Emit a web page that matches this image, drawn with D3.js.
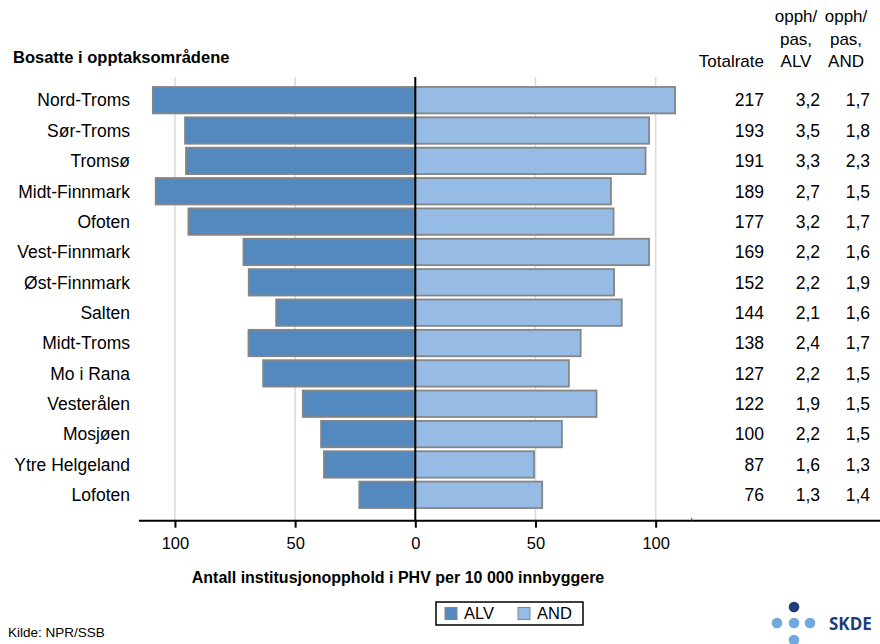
<!DOCTYPE html>
<html>
<head>
<meta charset="utf-8">
<script src="https://cdn.jsdelivr.net/npm/d3@7"></script>
<style>
  body { margin: 0; background: #fff; }
  svg { display: block; }
  text { font-family: "Liberation Sans", Arial, Helvetica, sans-serif; fill: #000; }
</style>
</head>
<body>
<svg id="chart" width="880" height="644"></svg>
<script>
// Opptaksområder (sortert etter totalrate)
const regions = ["Nord-Troms", "Sør-Troms", "Tromsø", "Midt-Finnmark", "Ofoten", "Vest-Finnmark",
  "Øst-Finnmark", "Salten", "Midt-Troms", "Mo i Rana", "Vesterålen", "Mosjøen", "Ytre Helgeland", "Lofoten"];
// Rater per 10 000 innbyggere
const alvRate = [109.2, 95.8, 95.4, 108.0, 94.4, 71.5, 69.3, 57.9, 69.4, 63.3, 46.8, 39.2, 38.0, 23.3];
const andRate = [108.1, 97.3, 95.8, 81.4, 82.5, 97.3, 82.7, 85.9, 68.8, 63.9, 75.4, 61.0, 49.4, 52.8];
const totalRate = [217, 193, 191, 189, 177, 169, 152, 144, 138, 127, 122, 100, 87, 76];
// Opphold per pasient
const perPatientAlv = [3.2, 3.5, 3.3, 2.7, 3.2, 2.2, 2.2, 2.1, 2.4, 2.2, 1.9, 2.2, 1.6, 1.3];
const perPatientAnd = [1.7, 1.8, 2.3, 1.5, 1.7, 1.6, 1.9, 1.6, 1.7, 1.5, 1.5, 1.5, 1.3, 1.4];
const xTicks = [-100, -50, 0, 50, 100];
const seriesNames = ["ALV", "AND"];
const seriesColors = ["#5389be", "#96bce5"];

const svg = d3.select("#chart");
const W = 880;
const no = d3.formatLocale({ decimal: ",", thousands: " ", grouping: [3], currency: ["", " kr"] });
const fmt1 = no.format(".1f");
const labelSize = 17.5;

const x = d3.scaleLinear().domain([-115, 115]).range([138.9, 691.7]);
const y = d3.scaleBand().domain(regions).range([85, 510]).paddingInner(0.13).paddingOuter(0.065);
const axisY = 520.7, gridTop = 77;

// rutenett
svg.append("g").selectAll("line")
  .data(xTicks.filter(d => d !== 0))
  .join("line")
  .attr("x1", d => x(d)).attr("x2", d => x(d))
  .attr("y1", gridTop).attr("y2", axisY)
  .attr("stroke", "#dcdcdc").attr("stroke-width", 1.6);

// søyler
const rows = regions.map((r, i) => ({ r, alv: alvRate[i], and: andRate[i] }));
const bars = svg.append("g");
bars.selectAll("rect.alv").data(rows).join("rect")
  .attr("class", "alv")
  .attr("x", d => x(-d.alv)).attr("width", d => x(0) - x(-d.alv))
  .attr("y", d => y(d.r)).attr("height", y.bandwidth())
  .attr("fill", seriesColors[0]).attr("stroke", "#858585").attr("stroke-width", 1.8);
bars.selectAll("rect.and").data(rows).join("rect")
  .attr("class", "and")
  .attr("x", x(0)).attr("width", d => x(d.and) - x(0))
  .attr("y", d => y(d.r)).attr("height", y.bandwidth())
  .attr("fill", seriesColors[1]).attr("stroke", "#858585").attr("stroke-width", 1.8);

// nullinje
svg.append("line")
  .attr("x1", x(0)).attr("x2", x(0)).attr("y1", gridTop).attr("y2", axisY)
  .attr("stroke", "#000").attr("stroke-width", 2);

// x-akse
const xAxis = d3.axisBottom(x).tickValues(xTicks).tickFormat(d => Math.abs(d))
  .tickSize(7).tickSizeOuter(0).tickPadding(10);
const gx = svg.append("g").attr("transform", `translate(0,${axisY})`).call(xAxis);
gx.select(".domain").remove();
gx.selectAll(".tick line").attr("stroke", "#000").attr("stroke-width", 2);
gx.selectAll(".tick text").attr("font-size", 16.5).attr("fill", "#000")
  .style("font-family", "'Liberation Sans', Arial, sans-serif");
svg.append("line").attr("x1", x.range()[0]).attr("x2", W).attr("y1", axisY).attr("y2", axisY)
  .attr("stroke", "#000").attr("stroke-width", 2);
svg.append("line").attr("x1", x.range()[1]).attr("x2", x.range()[1]).attr("y1", axisY - 3).attr("y2", axisY)
  .attr("stroke", "#555").attr("stroke-width", 1);

// kategorietiketter
svg.append("g").selectAll("text").data(regions).join("text")
  .attr("x", 130).attr("y", d => y(d) + y.bandwidth() / 2)
  .attr("dy", "0.36em").attr("text-anchor", "end").attr("font-size", labelSize)
  .text(d => d);

// tabellkolonner
const cols = [
  { xp: 764, vals: totalRate.map(String), head: ["Totalrate"], hx: 764 },
  { xp: 820, vals: perPatientAlv.map(fmt1), head: ["opph/", "pas,", "ALV"], hx: 796 },
  { xp: 870, vals: perPatientAnd.map(fmt1), head: ["opph/", "pas,", "AND"], hx: 846 }
];
cols.forEach(c => {
  svg.append("g").selectAll("text").data(c.vals).join("text")
    .attr("x", c.xp).attr("y", (d, i) => y(regions[i]) + y.bandwidth() / 2)
    .attr("dy", "0.36em").attr("text-anchor", "end").attr("font-size", labelSize)
    .text(d => d);
  const n = c.head.length;
  svg.append("g").selectAll("text").data(c.head).join("text")
    .attr("x", c.hx).attr("y", (d, i) => 67 - (n - 1 - i) * 22.5)
    .attr("text-anchor", n > 1 ? "middle" : "end").attr("font-size", 17)
    .text(d => d);
});

// titler
svg.append("text").attr("x", 13).attr("y", 63).attr("font-size", 16.5).attr("font-weight", "bold")
  .text("Bosatte i opptaksområdene");
svg.append("text").attr("x", 398).attr("y", 583).attr("text-anchor", "middle")
  .attr("font-size", 16).attr("font-weight", "bold")
  .text("Antall institusjonopphold i PHV per 10 000 innbyggere");

// forklaring
const lg = svg.append("g").attr("transform", "translate(436,602)");
lg.append("rect").attr("width", 147).attr("height", 23).attr("fill", "#fff")
  .attr("stroke", "#000").attr("stroke-width", 1.5);
const li = lg.selectAll("g.item").data(seriesNames).join("g")
  .attr("class", "item").attr("transform", (d, i) => `translate(${9 + i * 73},5.5)`);
li.append("rect").attr("width", 12).attr("height", 12)
  .attr("fill", (d, i) => seriesColors[i]).attr("stroke", "#858585").attr("stroke-width", 1);
li.append("text").attr("x", 19).attr("y", 6).attr("dy", "0.36em").attr("font-size", 16.5).text(d => d);

// kilde
svg.append("text").attr("x", 8).attr("y", 637).attr("font-size", 13.5).text("Kilde: NPR/SSB");

// SKDE-logo
const logo = svg.append("g");
const dots = [
  { cx: 794, cy: 607, c: "#1f3d78" },
  { cx: 777, cy: 623, c: "#6fa9dd" },
  { cx: 794, cy: 623, c: "#6fa9dd" },
  { cx: 810, cy: 623, c: "#6fa9dd" },
  { cx: 794, cy: 640, c: "#6fa9dd" }
];
logo.selectAll("circle").data(dots).join("circle")
  .attr("cx", d => d.cx).attr("cy", d => d.cy).attr("r", 5.3).attr("fill", d => d.c);
logo.append("text").attr("x", 829).attr("y", 629.5).attr("font-size", 17).attr("font-weight", "bold")
  .style("font-family", "'Open Sans', 'Liberation Sans', sans-serif").style("fill", "#1f3d78")
  .text("SKDE");
</script>
</body>
</html>
